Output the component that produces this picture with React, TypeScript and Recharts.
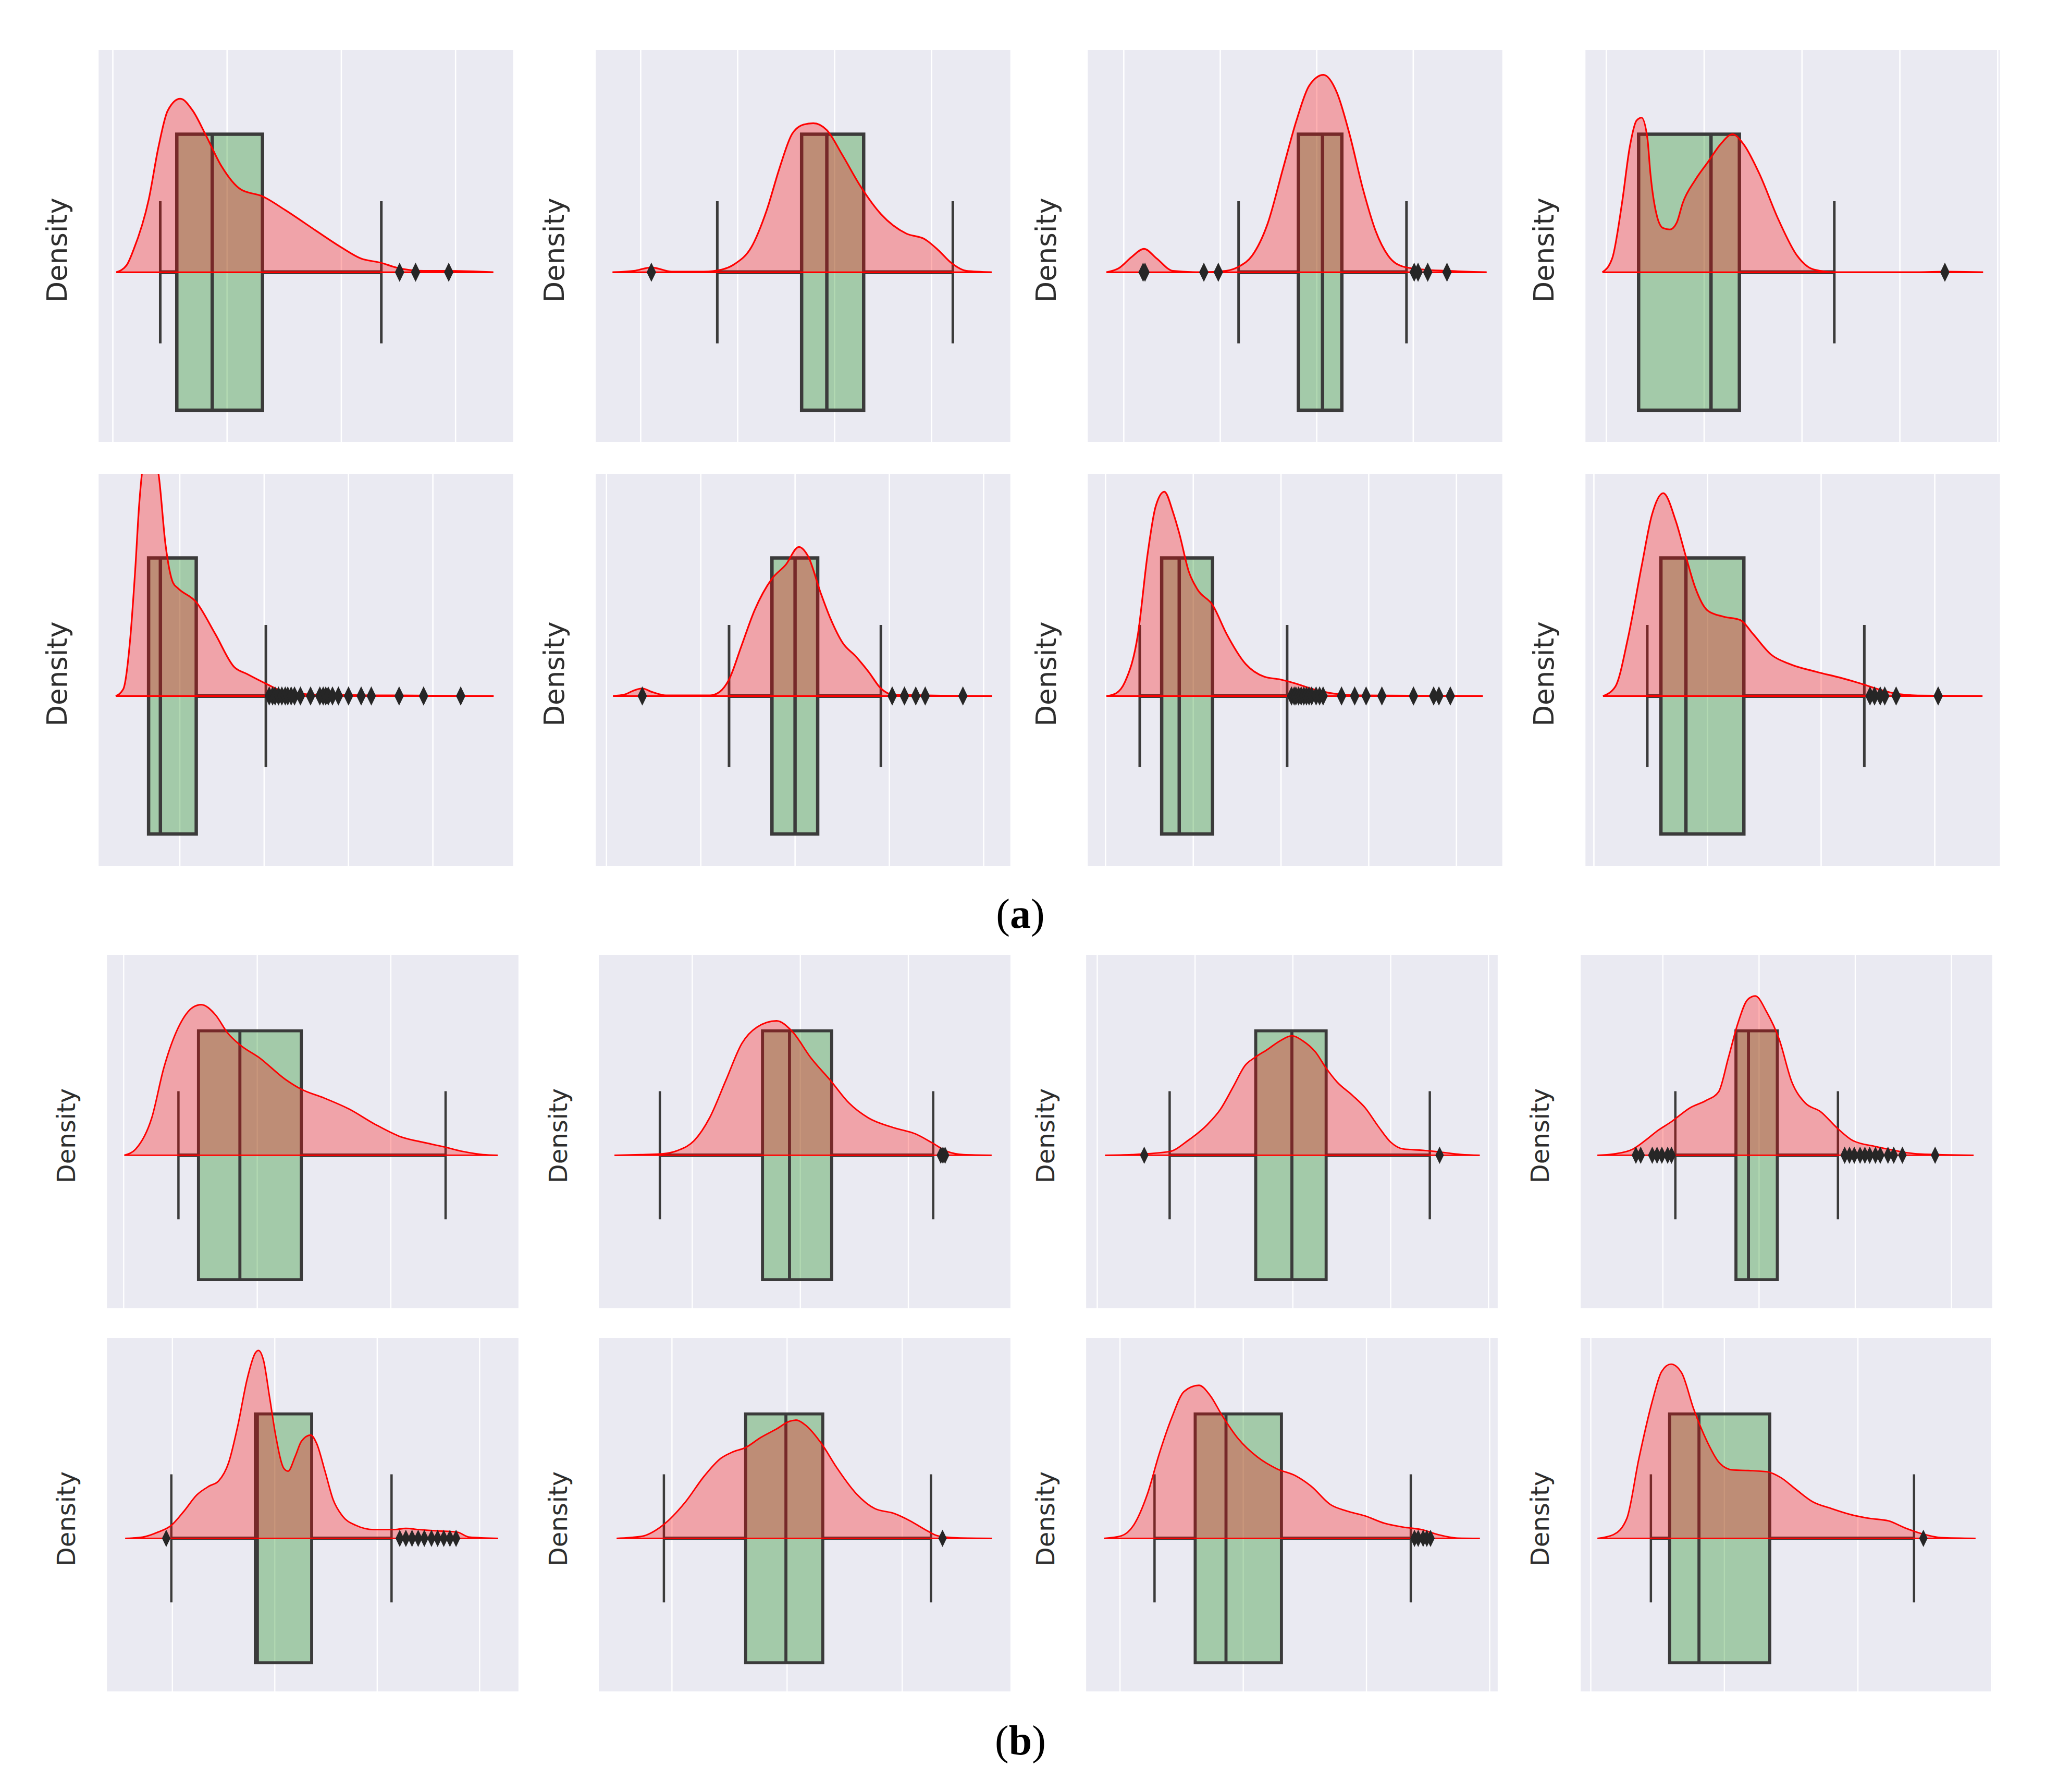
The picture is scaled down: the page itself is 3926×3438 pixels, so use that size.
import React from "react";
import {
  ComposedChart,
  Area,
  Scatter,
  XAxis,
  YAxis,
  CartesianGrid,
  ReferenceArea,
  ReferenceLine,
} from "recharts";

type Pt = [number, number];

// shared vertical scale: the box spans -1..1 around the density baseline (0)
const yRange = [-1.23, 1.61];
const capHalf = 0.515;

// ---------- (a) top row ----------
const a1Ticks = [0, 1, 2, 3];
const a1Range = [-0.13, 3.51];
const a1Box = [0.56, 0.87, 1.31]; // q1, median, q3
const a1Whiskers = [0.415, 2.35];
const a1Outliers = [2.51, 2.65, 2.94];
const a1Density: Pt[] = [[0.03, 0], [0.12, 0.05], [0.18, 0.16], [0.315, 0.53], [0.4, 0.91], [0.48, 1.17], [0.59, 1.257], [0.7, 1.17], [0.81, 1.0], [0.95, 0.77], [1.12, 0.6], [1.31, 0.55], [1.51, 0.45], [1.78, 0.3], [2.0, 0.18], [2.17, 0.1], [2.34, 0.07], [2.5, 0.03], [2.72, 0.01], [2.94, 0.01], [3.33, 0]];

const a2Ticks = [0, 1, 2, 3];
const a2Range = [-0.47, 3.82];
const a2Box = [1.66, 1.92, 2.3];
const a2Whiskers = [0.79, 3.22];
const a2Outliers = [0.11];
const a2Density: Pt[] = [[-0.29, 0], [-0.07, 0.01], [0.11, 0.035], [0.32, 0.005], [0.65, 0.005], [0.84, 0.02], [0.97, 0.06], [1.14, 0.18], [1.3, 0.45], [1.43, 0.75], [1.56, 1.0], [1.68, 1.07], [1.78, 1.08], [1.92, 1.03], [2.08, 0.85], [2.27, 0.62], [2.48, 0.42], [2.74, 0.28], [2.93, 0.24], [3.07, 0.16], [3.2, 0.07], [3.36, 0.01], [3.62, 0]];

const a3Ticks = [0, 1, 2, 3];
const a3Range = [-0.38, 3.93];
const a3Box = [1.81, 2.06, 2.26];
const a3Whiskers = [1.19, 2.93];
const a3Outliers = [0.2, 0.22, 0.83, 0.98, 3.01, 3.05, 3.15, 3.35];
const a3Density: Pt[] = [[-0.18, 0], [-0.05, 0.03], [0.08, 0.11], [0.21, 0.17], [0.34, 0.1], [0.51, 0.01], [0.8, 0], [1.06, 0.01], [1.19, 0.04], [1.33, 0.12], [1.49, 0.35], [1.65, 0.75], [1.79, 1.1], [1.92, 1.35], [2.07, 1.43], [2.21, 1.3], [2.34, 1.0], [2.48, 0.6], [2.61, 0.3], [2.74, 0.12], [2.9, 0.04], [3.1, 0.02], [3.36, 0.01], [3.76, 0]];

const a4Ticks = [0, 1, 2, 3, 4];
const a4Range = [-0.22, 4.03];
const a4Box = [0.33, 1.07, 1.36];
const a4Whiskers = [0.33, 2.33];
const a4Outliers = [3.46];
const a4Density: Pt[] = [[-0.04, 0], [0.06, 0.1], [0.16, 0.5], [0.24, 0.91], [0.31, 1.1], [0.36, 1.12], [0.42, 0.97], [0.45, 0.72], [0.52, 0.4], [0.58, 0.32], [0.65, 0.31], [0.72, 0.36], [0.78, 0.5], [0.91, 0.67], [1.04, 0.8], [1.17, 0.93], [1.29, 1.0], [1.4, 0.93], [1.56, 0.72], [1.76, 0.38], [1.95, 0.12], [2.12, 0.02], [2.35, 0], [3.2, 0], [3.46, 0.005], [3.85, 0]];

// ---------- (a) second row ----------
const a5Ticks = [0, 1, 2, 3];
const a5Range = [-0.97, 3.96];
const a5Box = [-0.37, -0.23, 0.195];
const a5Whiskers = [-0.37, 1.02];
const a5Outliers = [1.06, 1.1, 1.13, 1.17, 1.21, 1.25, 1.28, 1.32, 1.36, 1.43, 1.55, 1.66, 1.7, 1.73, 1.76, 1.81, 1.88, 2.0, 2.15, 2.27, 2.6, 2.89, 3.33];
const a5Density: Pt[] = [[-0.76, 0], [-0.67, 0.05], [-0.59, 0.4], [-0.53, 0.9], [-0.48, 1.4], [-0.42, 1.72], [-0.33, 1.78], [-0.25, 1.6], [-0.17, 1.1], [-0.08, 0.82], [-0.02, 0.78], [0.195, 0.68], [0.42, 0.45], [0.645, 0.21], [0.795, 0.16], [1.02, 0.09], [1.245, 0.03], [1.62, 0.01], [2.37, 0.005], [3.72, 0]];

const a6Ticks = [0, 1, 2, 3, 4];
const a6Range = [-0.12, 4.29];
const a6Box = [1.755, 2.0, 2.24];
const a6Whiskers = [1.3, 2.91];
const a6Outliers = [0.38, 3.03, 3.16, 3.28, 3.38, 3.78];
const a6Density: Pt[] = [[0.07, 0], [0.19, 0.01], [0.29, 0.04], [0.38, 0.055], [0.48, 0.03], [0.63, 0.005], [1.1, 0.005], [1.2, 0.03], [1.3, 0.12], [1.43, 0.36], [1.57, 0.62], [1.755, 0.85], [1.9, 0.95], [2.04, 1.08], [2.14, 1.01], [2.27, 0.75], [2.37, 0.57], [2.51, 0.38], [2.64, 0.29], [2.78, 0.175], [2.91, 0.055], [3.04, 0.01], [4.09, 0]];

const a7Ticks = [0, 1, 2, 3, 4];
const a7Range = [-0.21, 4.53];
const a7Box = [0.64, 0.84, 1.22];
const a7Whiskers = [0.39, 2.07];
const a7Outliers = [2.12, 2.15, 2.17, 2.2, 2.23, 2.26, 2.29, 2.32, 2.35, 2.4, 2.44, 2.48, 2.69, 2.84, 2.97, 3.15, 3.51, 3.74, 3.8, 3.93];
const a7Density: Pt[] = [[0.01, 0], [0.12, 0.02], [0.22, 0.1], [0.37, 0.45], [0.48, 1.03], [0.57, 1.37], [0.67, 1.48], [0.77, 1.33], [0.84, 1.18], [0.95, 0.9], [1.05, 0.77], [1.22, 0.66], [1.38, 0.45], [1.6, 0.23], [1.81, 0.14], [1.99, 0.12], [2.17, 0.09], [2.39, 0.045], [2.61, 0.017], [2.9, 0.005], [4.3, 0]];

const a8Ticks = [0, 1, 2, 3];
const a8Range = [-0.08, 3.58];
const a8Box = [0.59, 0.81, 1.32];
const a8Whiskers = [0.47, 2.38];
const a8Outliers = [2.43, 2.47, 2.52, 2.56, 2.66, 3.03];
const a8Density: Pt[] = [[0.08, 0], [0.19, 0.07], [0.3, 0.42], [0.42, 0.94], [0.51, 1.31], [0.61, 1.47], [0.72, 1.27], [0.81, 1.01], [0.89, 0.79], [1.0, 0.62], [1.14, 0.575], [1.29, 0.55], [1.4, 0.45], [1.56, 0.3], [1.73, 0.23], [1.96, 0.175], [2.18, 0.13], [2.35, 0.09], [2.52, 0.045], [2.66, 0.017], [2.85, 0.004], [3.42, 0]];

// ---------- (b) top row ----------
const b1Ticks = [0, 1, 2];
const b1Range = [-0.13, 2.96];
const b1Box = [0.56, 0.87, 1.33];
const b1Whiskers = [0.41, 2.41];
const b1Outliers: number[] = [];
const b1Density: Pt[] = [[0.005, 0], [0.09, 0.05], [0.21, 0.3], [0.3, 0.7], [0.42, 1.05], [0.52, 1.19], [0.58, 1.21], [0.686, 1.13], [0.78, 0.98], [0.867, 0.89], [1.02, 0.78], [1.21, 0.61], [1.33, 0.53], [1.5, 0.46], [1.69, 0.37], [1.88, 0.25], [2.07, 0.15], [2.26, 0.1], [2.4, 0.067], [2.54, 0.03], [2.69, 0.005], [2.8, 0]];

const b2Ticks = [0, 1, 2];
const b2Range = [-0.87, 2.95];
const b2Box = [0.65, 0.9, 1.29];
const b2Whiskers = [-0.3, 2.23];
const b2Outliers = [2.3, 2.32, 2.34];
const b2Density: Pt[] = [[-0.72, 0], [-0.48, 0.005], [-0.3, 0.01], [-0.13, 0.04], [0.02, 0.12], [0.16, 0.3], [0.31, 0.6], [0.46, 0.9], [0.6, 1.03], [0.78, 1.08], [0.92, 1.0], [1.1, 0.78], [1.28, 0.6], [1.45, 0.42], [1.63, 0.3], [1.87, 0.22], [2.07, 0.17], [2.22, 0.1], [2.36, 0.03], [2.51, 0.005], [2.77, 0]];

const b3Ticks = [0, 1, 2, 3, 4];
const b3Range = [-0.12, 4.1];
const b3Box = [1.62, 1.99, 2.34];
const b3Whiskers = [0.74, 3.4];
const b3Outliers = [0.48, 3.5];
const b3Density: Pt[] = [[0.08, 0], [0.35, 0.005], [0.74, 0.03], [0.93, 0.12], [1.13, 0.25], [1.26, 0.37], [1.39, 0.55], [1.51, 0.72], [1.62, 0.79], [1.74, 0.85], [1.87, 0.92], [1.99, 0.96], [2.1, 0.92], [2.23, 0.83], [2.34, 0.7], [2.45, 0.59], [2.61, 0.48], [2.74, 0.38], [2.87, 0.235], [3.0, 0.105], [3.13, 0.05], [3.33, 0.04], [3.46, 0.03], [3.72, 0.006], [3.91, 0]];

const b4Ticks = [0, 1, 2, 3];
const b4Range = [-0.86, 3.43];
const b4Box = [0.76, 0.89, 1.19];
const b4Whiskers = [0.13, 1.82];
const b4Outliers = [-0.28, -0.23, -0.11, -0.06, -0.01, 0.05, 0.09, 1.89, 1.94, 1.99, 2.05, 2.1, 2.15, 2.21, 2.26, 2.34, 2.4, 2.49, 2.83];
const b4Density: Pt[] = [[-0.68, 0], [-0.51, 0.01], [-0.31, 0.05], [-0.18, 0.12], [-0.05, 0.2], [0.09, 0.27], [0.28, 0.38], [0.45, 0.44], [0.58, 0.51], [0.68, 0.78], [0.78, 1.06], [0.88, 1.25], [0.96, 1.28], [1.08, 1.15], [1.21, 0.93], [1.34, 0.59], [1.48, 0.42], [1.64, 0.35], [1.81, 0.22], [1.97, 0.12], [2.21, 0.07], [2.4, 0.04], [2.54, 0.02], [2.67, 0.01], [3.23, 0]];

// ---------- (b) second row ----------
const b5Ticks = [0, 1, 2, 3];
const b5Range = [-0.645, 3.385];
const b5Box = [0.81, 0.83, 1.36];
const b5Whiskers = [-0.01, 2.14];
const b5Outliers = [-0.06, 2.22, 2.28, 2.34, 2.4, 2.46, 2.53, 2.59, 2.65, 2.71, 2.77];
const b5Density: Pt[] = [[-0.46, 0], [-0.29, 0.01], [-0.14, 0.05], [-0.01, 0.105], [0.11, 0.215], [0.24, 0.35], [0.36, 0.42], [0.45, 0.46], [0.55, 0.61], [0.64, 0.91], [0.73, 1.28], [0.81, 1.49], [0.84, 1.51], [0.89, 1.43], [0.95, 1.13], [1.01, 0.82], [1.09, 0.56], [1.13, 0.54], [1.2, 0.66], [1.26, 0.78], [1.35, 0.83], [1.41, 0.76], [1.49, 0.54], [1.57, 0.31], [1.66, 0.18], [1.79, 0.105], [1.97, 0.07], [2.16, 0.07], [2.28, 0.08], [2.41, 0.07], [2.59, 0.06], [2.78, 0.05], [2.9, 0.01], [3.18, 0]];

const b6Ticks = [0, 1, 2];
const b6Range = [-0.64, 2.945];
const b6Box = [0.64, 0.99, 1.31];
const b6Whiskers = [-0.07, 2.25];
const b6Outliers = [2.35];
const b6Density: Pt[] = [[-0.48, 0], [-0.27, 0.015], [-0.08, 0.105], [0.115, 0.29], [0.28, 0.5], [0.42, 0.64], [0.53, 0.695], [0.64, 0.73], [0.77, 0.81], [0.91, 0.88], [1.02, 0.94], [1.08, 0.95], [1.16, 0.91], [1.3, 0.76], [1.43, 0.57], [1.6, 0.36], [1.76, 0.24], [1.93, 0.2], [2.07, 0.14], [2.2, 0.07], [2.31, 0.02], [2.48, 0.004], [2.78, 0]];

const b7Ticks = [0, 1, 2, 3];
const b7Range = [-0.28, 3.07];
const b7Box = [0.61, 0.86, 1.31];
const b7Whiskers = [0.28, 2.36];
const b7Outliers = [2.39, 2.42, 2.46, 2.49, 2.52];
const b7Density: Pt[] = [[-0.13, 0], [0.01, 0.02], [0.11, 0.105], [0.22, 0.35], [0.32, 0.685], [0.42, 0.97], [0.52, 1.18], [0.64, 1.23], [0.73, 1.15], [0.83, 0.985], [0.96, 0.8], [1.12, 0.65], [1.27, 0.56], [1.43, 0.5], [1.55, 0.42], [1.71, 0.27], [1.84, 0.22], [1.99, 0.18], [2.15, 0.12], [2.3, 0.09], [2.45, 0.07], [2.58, 0.03], [2.74, 0.002], [2.92, 0]];

const b8Ticks = [0, 1, 2, 3];
const b8Range = [-0.08, 3.01];
const b8Box = [0.59, 0.81, 1.34];
const b8Whiskers = [0.45, 2.42];
const b8Outliers = [2.49];
const b8Density: Pt[] = [[0.05, 0], [0.17, 0.03], [0.27, 0.16], [0.36, 0.64], [0.46, 1.1], [0.53, 1.34], [0.6, 1.4], [0.68, 1.33], [0.77, 1.04], [0.87, 0.78], [0.96, 0.61], [1.06, 0.55], [1.18, 0.545], [1.32, 0.535], [1.42, 0.49], [1.54, 0.39], [1.66, 0.295], [1.8, 0.24], [1.95, 0.19], [2.09, 0.16], [2.23, 0.14], [2.35, 0.085], [2.47, 0.04], [2.62, 0.006], [2.88, 0]];

type PanelData = {
  ticks: number[];
  range: number[];
  box: number[];
  whiskers: number[];
  outliers: number[];
  density: Pt[];
};

const panelsA: PanelData[] = [
  { ticks: a1Ticks, range: a1Range, box: a1Box, whiskers: a1Whiskers, outliers: a1Outliers, density: a1Density },
  { ticks: a2Ticks, range: a2Range, box: a2Box, whiskers: a2Whiskers, outliers: a2Outliers, density: a2Density },
  { ticks: a3Ticks, range: a3Range, box: a3Box, whiskers: a3Whiskers, outliers: a3Outliers, density: a3Density },
  { ticks: a4Ticks, range: a4Range, box: a4Box, whiskers: a4Whiskers, outliers: a4Outliers, density: a4Density },
  { ticks: a5Ticks, range: a5Range, box: a5Box, whiskers: a5Whiskers, outliers: a5Outliers, density: a5Density },
  { ticks: a6Ticks, range: a6Range, box: a6Box, whiskers: a6Whiskers, outliers: a6Outliers, density: a6Density },
  { ticks: a7Ticks, range: a7Range, box: a7Box, whiskers: a7Whiskers, outliers: a7Outliers, density: a7Density },
  { ticks: a8Ticks, range: a8Range, box: a8Box, whiskers: a8Whiskers, outliers: a8Outliers, density: a8Density },
];

const panelsB: PanelData[] = [
  { ticks: b1Ticks, range: b1Range, box: b1Box, whiskers: b1Whiskers, outliers: b1Outliers, density: b1Density },
  { ticks: b2Ticks, range: b2Range, box: b2Box, whiskers: b2Whiskers, outliers: b2Outliers, density: b2Density },
  { ticks: b3Ticks, range: b3Range, box: b3Box, whiskers: b3Whiskers, outliers: b3Outliers, density: b3Density },
  { ticks: b4Ticks, range: b4Range, box: b4Box, whiskers: b4Whiskers, outliers: b4Outliers, density: b4Density },
  { ticks: b5Ticks, range: b5Range, box: b5Box, whiskers: b5Whiskers, outliers: b5Outliers, density: b5Density },
  { ticks: b6Ticks, range: b6Range, box: b6Box, whiskers: b6Whiskers, outliers: b6Outliers, density: b6Density },
  { ticks: b7Ticks, range: b7Range, box: b7Box, whiskers: b7Whiskers, outliers: b7Outliers, density: b7Density },
  { ticks: b8Ticks, range: b8Range, box: b8Box, whiskers: b8Whiskers, outliers: b8Outliers, density: b8Density },
];

// layout of the two figure blocks
const colsA = [188, 1142, 2086, 3041];
const rowsA = [96, 909];
const sizeA = { w: 798, h: 752, s: 1 };
const colsB = [204, 1148, 2083, 3032];
const rowsB = [1832, 2567];
const sizeB = { w: 792, h: 678, s: 0.9 };

const BG = "#eaeaf2";
const EDGE = "#3b3b3b";
const RED = "#ff0000";
const GREEN = "#008000";

function Diamond(props: any) {
  const { cx, cy, w, h } = props;
  if (cx == null || cy == null) return null;
  return (
    <polygon
      points={`${cx},${cy - h / 2} ${cx + w / 2},${cy} ${cx},${cy + h / 2} ${cx - w / 2},${cy}`}
      fill="#262626"
    />
  );
}

function Panel({ p, left, top, w, h, s }: { p: PanelData; left: number; top: number; w: number; h: number; s: number }) {
  const dens = p.density.map(([x, y]) => ({ x, y }));
  const outs = p.outliers.map((x) => ({ x, y: 0 }));
  const [q1, med, q3] = p.box;
  const [wlo, whi] = p.whiskers;
  const xStart = p.density[0][0];
  const xEnd = p.density[p.density.length - 1][0];
  const boxW = 6.5 * s;
  const capW = 5 * s;
  const connW = 7.5 * s;

  return (
    <div style={{ position: "absolute", left, top, width: w, height: h }}>
      <ComposedChart width={w} height={h} margin={{ top: 0, right: 0, bottom: 0, left: 0 }}>
        <CartesianGrid horizontal={false} stroke="#ffffff" strokeWidth={2.6 * s} fill={BG} fillOpacity={1} />
        <XAxis type="number" dataKey="x" domain={p.range} ticks={p.ticks} interval={0} allowDataOverflow hide />
        <YAxis type="number" dataKey="y" domain={yRange} allowDataOverflow hide />

        {/* box + whiskers */}
        <ReferenceArea x1={q1} x2={q3} y1={-1} y2={1} fill={GREEN} fillOpacity={0.3} stroke={EDGE} strokeWidth={boxW} ifOverflow="visible" zIndex={50} />
        <ReferenceLine segment={[{ x: med, y: -1 }, { x: med, y: 1 }]} stroke={EDGE} strokeWidth={boxW} ifOverflow="visible" zIndex={60} />
        <ReferenceLine segment={[{ x: wlo, y: 0 }, { x: q1, y: 0 }]} stroke={EDGE} strokeWidth={connW} ifOverflow="visible" zIndex={60} />
        <ReferenceLine segment={[{ x: q3, y: 0 }, { x: whi, y: 0 }]} stroke={EDGE} strokeWidth={connW} ifOverflow="visible" zIndex={60} />
        <ReferenceLine segment={[{ x: wlo, y: -capHalf }, { x: wlo, y: capHalf }]} stroke={EDGE} strokeWidth={capW} ifOverflow="visible" zIndex={60} />
        <ReferenceLine segment={[{ x: whi, y: -capHalf }, { x: whi, y: capHalf }]} stroke={EDGE} strokeWidth={capW} ifOverflow="visible" zIndex={60} />

        {/* kde */}
        <Area
          data={dens}
          dataKey="y"
          type="monotone"
          baseValue={0}
          stroke={RED}
          strokeWidth={3.2 * s}
          fill={RED}
          fillOpacity={0.3}
          dot={false}
          activeDot={false}
          isAnimationActive={false}
          zIndex={100}
        />
        <ReferenceLine segment={[{ x: xStart, y: 0 }, { x: xEnd, y: 0 }]} stroke={RED} strokeWidth={3.2 * s} ifOverflow="visible" zIndex={450} />

        <Scatter
          data={outs}
          dataKey="y"
          isAnimationActive={false}
          shape={(sp: any) => <Diamond {...sp} w={18 * s} h={37 * s} />}
          zIndex={600}
        />
      </ComposedChart>
    </div>
  );
}

export default function App() {
  const frames: { p: PanelData; left: number; top: number; w: number; h: number; s: number }[] = [];
  panelsA.forEach((p, i) => {
    frames.push({ p, left: colsA[i % 4], top: rowsA[Math.floor(i / 4)], ...sizeA });
  });
  panelsB.forEach((p, i) => {
    frames.push({ p, left: colsB[i % 4], top: rowsB[Math.floor(i / 4)], ...sizeB });
  });

  return (
    <div style={{ position: "absolute", left: 0, top: 0, width: 3926, height: 3438, background: "#ffffff", overflow: "hidden" }}>
      {frames.map((f, i) => (
        <Panel key={i} {...f} />
      ))}
      <svg width={3926} height={3438} style={{ position: "absolute", left: 0, top: 0, pointerEvents: "none" }}>
        {frames.map((f, i) => (
          <text
            key={`lab-${i}`}
            transform={`translate(${f.left - 60}, ${f.top + f.h / 2 + 8}) rotate(-90)`}
            textAnchor="middle"
            fontFamily="DejaVu Sans"
            fontSize={f.s === 1 ? 53 : 48}
            fill="#2e2e2e"
          >
            Density
          </text>
        ))}
        <text x={1958} y={1780} textAnchor="middle" fontFamily="Liberation Serif" fontSize={80} fill="#000">
          (<tspan fontWeight="bold">a</tspan>)
        </text>
        <text x={1958} y={3366} textAnchor="middle" fontFamily="Liberation Serif" fontSize={80} fill="#000">
          (<tspan fontWeight="bold">b</tspan>)
        </text>
      </svg>
    </div>
  );
}
